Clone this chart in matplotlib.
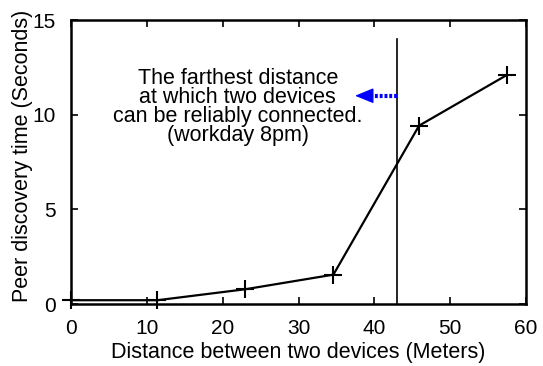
import matplotlib
matplotlib.use("Agg")
import matplotlib.pyplot as plt

# distance (m) vs peer discovery time (s)
distance = [0, 11.4, 23.0, 34.6, 45.9, 57.5]
discovery_time = [0.2, 0.2, 0.78, 1.55, 9.42, 12.1]

x_ticks = [0, 10, 20, 30, 40, 50, 60]
y_ticks = [0, 5, 10, 15]

limit_x = 43.0      # farthest reliable distance
limit_top = 14.0
arrow_y = 11.0
arrow_tip = 37.45
arrow_base = 39.65
note = "The farthest distance\nat which two devices\ncan be reliably connected.\n(workday 8pm)"

plt.rcParams['font.family'] = ['Liberation Sans', 'DejaVu Sans']

fig = plt.figure(figsize=(5.43, 3.66), dpi=100)
ax = fig.add_axes([71 / 543, 1 - 304 / 366, (526 - 71) / 543, (304 - 20) / 366])

ax.plot(distance, discovery_time, color="black", lw=1.6, marker="+",
        markersize=13, markeredgewidth=1.5, clip_on=False)
ax.plot([limit_x, limit_x], [0, limit_top], color="black", lw=1.2)

# dotted blue arrow pointing left from the limit line
ax.plot([limit_x, arrow_base], [arrow_y, arrow_y], color="#0000ff", lw=3,
        linestyle=(0, (0.7, 0.45)), solid_capstyle="butt")
ax.annotate("", xy=(arrow_tip, arrow_y), xytext=(arrow_base, arrow_y),
            arrowprops=dict(arrowstyle="-|>,head_length=1.15,head_width=0.47",
                            mutation_scale=10, color="#0000ff", lw=1,
                            shrinkA=0, shrinkB=0))

ax.text(22, 10.4, note, ha="center", va="center", fontsize=15.5,
        linespacing=0.88)

ax.set_xlim(0, 60)
ax.set_ylim(0, 15)
ax.set_xticks(x_ticks)
ax.set_yticks(y_ticks)
ax.tick_params(direction="in", length=5, width=1.2, top=True, right=True,
               labelsize=15)
ax.tick_params(axis="x", pad=11)
ax.tick_params(axis="y", pad=11)
for s in ax.spines.values():
    s.set_linewidth(1.8)

ax.set_xlabel("Distance between two devices (Meters)", fontsize=15.5, va="center")
ax.set_ylabel("Peer discovery time (Seconds)", fontsize=15.5, va="center")
ax.xaxis.set_label_coords(0.5, -0.172)
ax.yaxis.set_label_coords(-0.107, 0.52)

fig.savefig("out.png", dpi=100)
